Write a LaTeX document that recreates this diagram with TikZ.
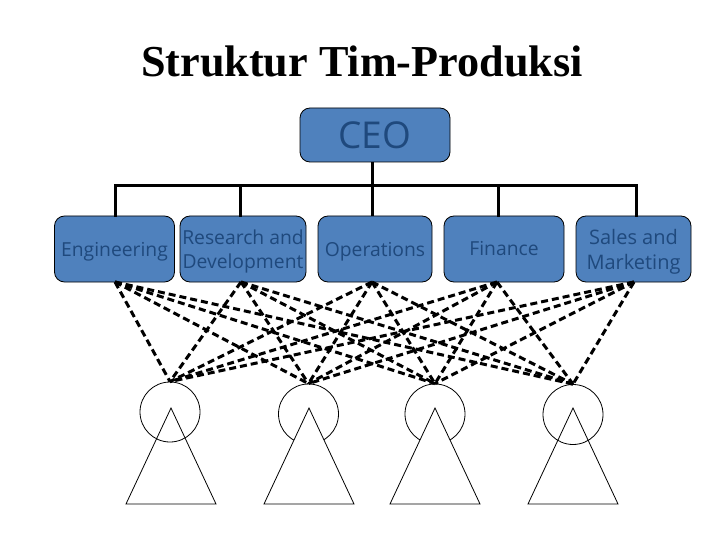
\documentclass[tikz,border=0pt]{standalone}
\usepackage{fontspec}
\setmainfont{Liberation Serif}
\newfontfamily\boxfont{Open Sans}
\definecolor{boxfill}{HTML}{4F81BD}
\definecolor{boxtext}{HTML}{1F497D}
\newcommand{\dropbox}[1]{\raisebox{-3pt}[\height][\depth]{#1}}
\newcommand{\twolines}[2]{\dropbox{\begin{tabular}{@{}c@{}}#1\\#2\end{tabular}}}
\tikzset{
  orgbox/.style={draw=black, line width=0.8pt, fill=boxfill, rounded corners=10pt, inner sep=0pt, text=boxtext, align=center, font=\boxfont\fontsize{19.3}{24}\selectfont},
  solidlink/.style={line width=3pt, line cap=rect},
  dashlink/.style={line width=3pt, dash pattern=on 7pt off 4pt},
  unitcircle/.style={draw=black, line width=0.8pt, circle, minimum size=60pt, inner sep=0pt},
  unittri/.style={draw=black, line width=0.8pt, line join=miter},
}
\begin{document}
\begin{tikzpicture}[x=1pt,y=-1pt]
\useasboundingbox (0,0) rectangle (720,540);
\fill[white] (0,0) rectangle (720,540);
\node[font=\bfseries\fontsize{44.2}{50}\selectfont, inner sep=0pt, anchor=center] (title) at (362,61) {Struktur Tim-Produksi};
% boxes
\node[orgbox, minimum width=150pt, minimum height=54pt, font=\boxfont\fontsize{37}{42}\selectfont] (ceo) at (375,135) {CEO};
\node[orgbox, minimum width=120pt, minimum height=66pt] (eng) at (114.5,249) {\dropbox{Engineering}};
\node[orgbox, minimum width=126pt, minimum height=66pt] (rnd) at (243,249) {\twolines{Research and}{Development}};
\node[orgbox, minimum width=114pt, minimum height=66pt] (ops) at (375,249) {\dropbox{Operations}};
\node[orgbox, minimum width=120pt, minimum height=66pt] (fin) at (504,249) {Finance};
\node[orgbox, minimum width=115pt, minimum height=66pt, font=\boxfont\fontsize{20}{25}\selectfont] (sal) at (633.5,249) {\twolines{Sales and}{Marketing}};
% connection points
\coordinate (ceoB) at (372,162);
\coordinate (engT) at (115,216);
\coordinate (rndT) at (240,216);
\coordinate (opsT) at (372,216);
\coordinate (finT) at (498,216);
\coordinate (salT) at (636,216);
\coordinate (engB) at (115,282);
\coordinate (rndB) at (241,282);
\coordinate (opsB) at (372,282);
\coordinate (finB) at (497,282);
\coordinate (salB) at (634,282);
\coordinate (busM) at (372,186);
% solid tree
\draw[solidlink] (engT) |- (busM);
\draw[solidlink] (salT) |- (busM);
\draw[solidlink] (rndT) -- (rndT |- busM);
\draw[solidlink] (finT) -- (finT |- busM);
\draw[solidlink, line cap=butt] (ceoB) -- (opsT);
% circles
\node[unitcircle] (c1) at (170,412) {};
\node[unitcircle] (c2) at (308.5,414) {};
\node[unitcircle] (c3) at (435,414) {};
\node[unitcircle] (c4) at (573,414.5) {};
% triangles
\coordinate (t1) at (171,408); \coordinate (t1l) at (126,504); \coordinate (t1r) at (216,504);
\coordinate (t2) at (309,408); \coordinate (t2l) at (264,504); \coordinate (t2r) at (354,504);
\coordinate (t3) at (435,408); \coordinate (t3l) at (390,504); \coordinate (t3r) at (480,504);
\coordinate (t4) at (573,408); \coordinate (t4l) at (528,504); \coordinate (t4r) at (618,504);
\draw[unittri] (t1) -- (t1l) -- (t1r) -- cycle;
\draw[unittri, fill=white] (t2) -- (t2l) -- (t2r) -- cycle;
\draw[unittri, fill=white] (t3) -- (t3l) -- (t3r) -- cycle;
\draw[unittri] (t4) -- (t4l) -- (t4r) -- cycle;
% dashed
\foreach \a in {engB,rndB,opsB,finB,salB}{
  \foreach \b in {c1,c2,c3,c4}{
    \draw[dashlink] (\a) -- (\b.north);
  }
}
\end{tikzpicture}
\end{document}
